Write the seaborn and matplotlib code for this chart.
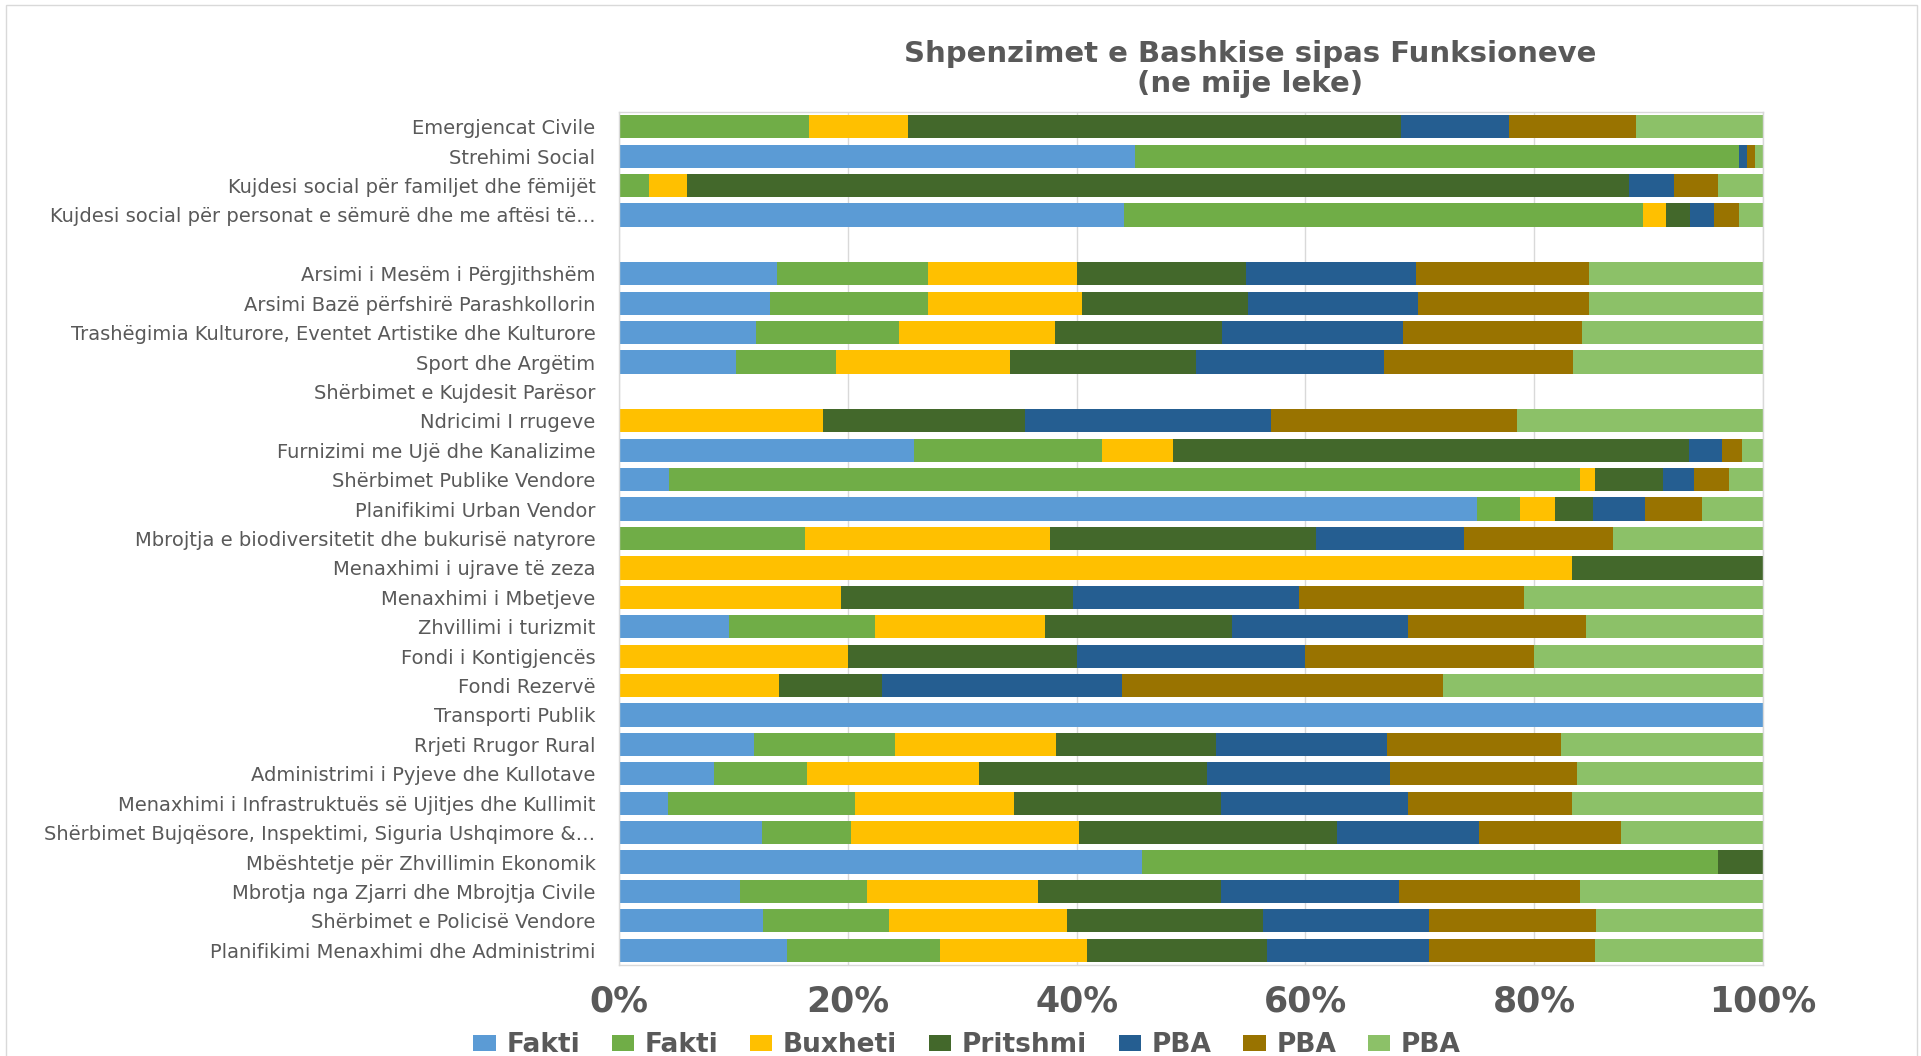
import matplotlib
matplotlib.use("Agg")
import matplotlib.pyplot as plt
from matplotlib.patches import Patch, Rectangle
import numpy as np
import pandas as pd
import seaborn as sns

# ---------------- data ----------------
categories = [
    "Emergjencat Civile",
    "Strehimi Social",
    "Kujdesi social për familjet dhe fëmijët",
    "Kujdesi social për personat e sëmurë dhe me aftësi të…",
    " ",
    "Arsimi i Mesëm i Përgjithshëm",
    "Arsimi Bazë përfshirë Parashkollorin",
    "Trashëgimia Kulturore, Eventet Artistike dhe Kulturore",
    "Sport dhe Argëtim",
    "Shërbimet e Kujdesit Parësor",
    "Ndricimi I rrugeve",
    "Furnizimi me Ujë dhe Kanalizime",
    "Shërbimet Publike Vendore",
    "Planifikimi Urban Vendor",
    "Mbrojtja e biodiversitetit dhe bukurisë natyrore",
    "Menaxhimi i ujrave të zeza",
    "Menaxhimi i Mbetjeve",
    "Zhvillimi i turizmit",
    "Fondi i Kontigjencës",
    "Fondi Rezervë",
    "Transporti Publik",
    "Rrjeti Rrugor Rural",
    "Administrimi i Pyjeve dhe Kullotave",
    "Menaxhimi i Infrastruktuës së Ujitjes dhe Kullimit",
    "Shërbimet Bujqësore, Inspektimi, Siguria Ushqimore &…",
    "Mbështetje për Zhvillimin Ekonomik",
    "Mbrotja nga Zjarri dhe Mbrojtja Civile",
    "Shërbimet e Policisë Vendore",
    "Planifikimi Menaxhimi dhe Administrimi",
]

series_labels = ["Fakti", "Fakti", "Buxheti", "Pritshmi", "PBA", "PBA", "PBA"]

fakti_1 = [0, 45.1, 0, 44.1, 0, 13.8, 13.2, 12.0, 10.2, 0, 0, 25.8, 4.4, 75.0, 0, 0, 0,
           9.6, 0, 0, 100, 11.8, 8.3, 4.3, 12.5, 45.7, 10.6, 12.6, 14.7]
fakti_2 = [16.6, 52.8, 2.65, 45.4, 0, 13.2, 13.8, 12.5, 8.8, 0, 0, 16.4, 79.6, 3.8, 16.3, 0, 0,
           12.8, 0, 0, 0, 12.3, 8.1, 16.3, 7.8, 50.4, 11.1, 11.0, 13.4]
buxheti = [8.7, 0, 3.3, 2.0, 0, 13.0, 13.5, 13.6, 15.2, 0, 17.8, 6.2, 1.3, 3.0, 21.4, 83.3, 19.4,
           14.8, 20.0, 14.0, 0, 14.1, 15.1, 13.9, 19.9, 0, 14.9, 15.6, 12.8]
pritshmi = [43.1, 0, 82.35, 2.1, 0, 14.8, 14.5, 14.6, 16.2, 0, 17.7, 45.1, 6.0, 3.3, 23.2, 16.7, 20.3,
            16.4, 20.0, 9.0, 0, 14.0, 19.9, 18.1, 22.6, 3.9, 16.0, 17.1, 15.7]
pba_1 = [9.4, 0.67, 3.9, 2.1, 0, 14.9, 14.8, 15.8, 16.5, 0, 21.5, 2.9, 2.7, 4.6, 13.0, 0, 19.7,
         15.4, 20.0, 21.0, 0, 14.9, 16.0, 16.4, 12.4, 0, 15.6, 14.5, 14.2]
pba_2 = [11.1, 0.7, 3.9, 2.2, 0, 15.1, 15.0, 15.7, 16.5, 0, 21.5, 1.8, 3.0, 5.0, 13.0, 0, 19.7,
         15.5, 20.0, 28.0, 0, 15.2, 16.3, 14.3, 12.4, 0, 15.8, 14.6, 14.5]
pba_3 = [11.1, 0.73, 3.9, 2.1, 0, 15.2, 15.2, 15.8, 16.6, 0, 21.5, 1.8, 3.0, 5.3, 13.1, 0, 20.9,
         15.5, 20.0, 28.0, 0, 17.7, 16.3, 16.7, 12.4, 0, 16.0, 14.6, 14.7]

colors = ["#5B9BD5", "#70AD47", "#FFC000", "#43682B", "#255E91", "#997300", "#8CC168"]
series_values = [fakti_1, fakti_2, buxheti, pritshmi, pba_1, pba_2, pba_3]

# ---------------- build table (100% stacked) ----------------
vals = np.array(series_values, dtype=float)          # (7, n)
totals = vals.sum(axis=0)
share = np.where(totals > 0, vals / np.where(totals > 0, totals, 1) * 100, 0)
cum = np.cumsum(share, axis=0)

df = pd.DataFrame({"category": categories})
for k in range(len(series_labels)):
    df[f"cum{k}"] = cum[k]

# ---------------- style ----------------
sns.set_theme(style="white")
plt.rcParams["font.family"] = ["DejaVu Sans"]
text_color = "#595959"
grid_color = "#D9D9D9"

fig = plt.figure(figsize=(19.21, 10.56), dpi=100)
fig.patch.set_facecolor("white")
ax = fig.add_axes([619 / 1921, 1 - 965 / 1056, (1763 - 619) / 1921, (965 - 112) / 1056])

# draw cumulative layers, largest first, so each series shows its own segment
for k in reversed(range(len(series_labels))):
    sns.barplot(data=df, x=f"cum{k}", y="category", order=categories,
                color=colors[k], saturation=1, width=0.79, linewidth=0,
                errorbar=None, orient="h", ax=ax, zorder=2)

ax.set_xlim(0, 100)
ax.set_ylim(len(categories) - 0.5, -0.5)
ax.set_xlabel("")
ax.set_ylabel("")

ticks = [0, 20, 40, 60, 80, 100]
ax.set_xticks(ticks)
ax.set_xticklabels([f"{t}%" for t in ticks], fontsize=25, fontweight="bold", color=text_color)
ax.tick_params(axis="x", length=0, pad=14)
ax.tick_params(axis="y", length=0, pad=17, labelsize=14, labelcolor=text_color)

ax.xaxis.grid(True, color=grid_color, linewidth=1, zorder=0)
ax.yaxis.grid(False)
ax.set_axisbelow(True)
for sp in ax.spines.values():
    sp.set_color(grid_color)
    sp.set_linewidth(1)
    sp.set_visible(True)

# title
fig.text(1250 / 1921, 1 - 69 / 1056, "Shpenzimet e Bashkise sipas Funksioneve\n(ne mije leke)",
         ha="center", va="center", fontsize=21, fontweight="bold", color=text_color,
         linespacing=1.05)

# legend
handles = [Patch(facecolor=c, edgecolor="none") for c in colors]
fig.legend(handles, series_labels, loc="center", bbox_to_anchor=(967 / 1921, 1 - 1045 / 1056),
           ncol=7, frameon=False, prop={"weight": "bold", "size": 19}, labelcolor=text_color,
           handlelength=0.85, handleheight=0.55, handletextpad=0.4, columnspacing=1.2)

# outer chart border
fig.patches.append(Rectangle((6 / 1921, -0.05), (1917 - 6) / 1921, 1.05 - 5 / 1056,
                             transform=fig.transFigure, fill=False,
                             edgecolor=grid_color, linewidth=1))

fig.savefig("out.png", dpi=100)
